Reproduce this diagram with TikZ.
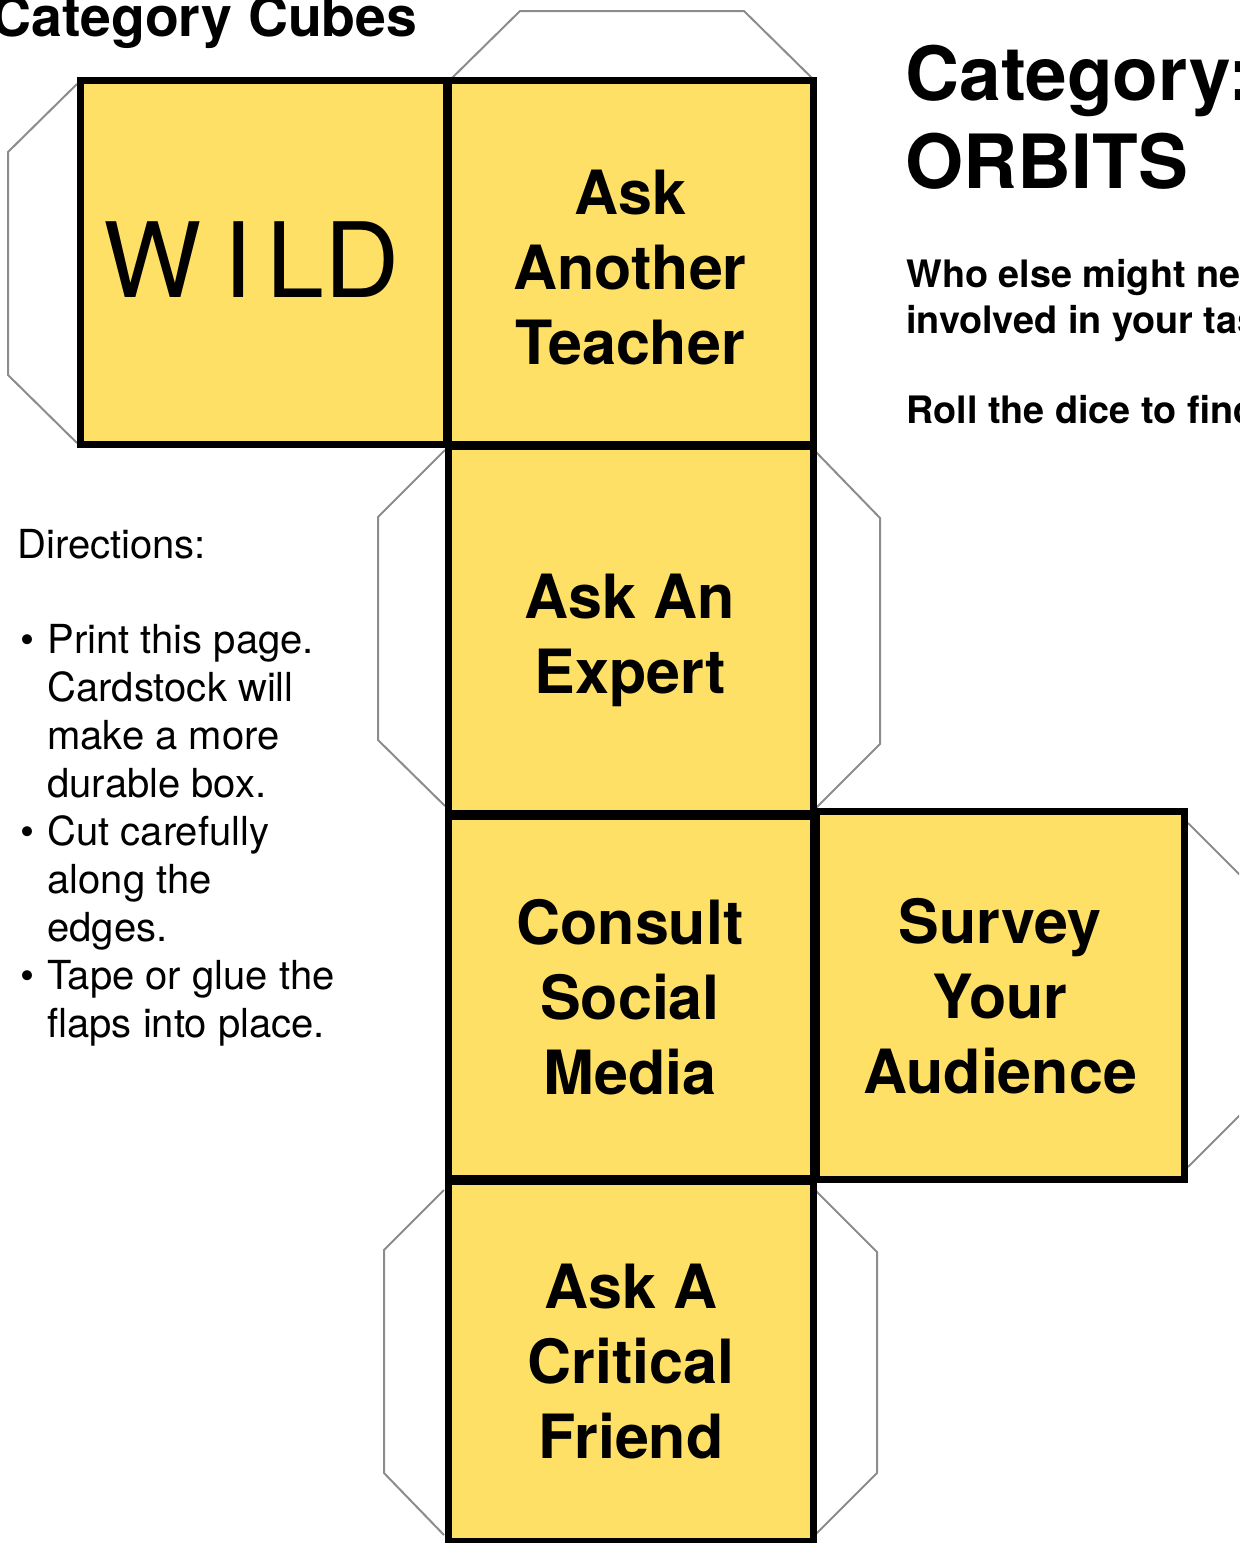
\documentclass[tikz,border=0pt]{standalone}
\usepackage{fontspec}
\setmainfont{TeX Gyre Heros}
\definecolor{cubeyellow}{HTML}{FFE066}
\definecolor{flapgray}{HTML}{8C8C8C}
\begin{document}
\begin{tikzpicture}[x=0.5pt,y=-0.5pt,
  flapline/.style={draw=flapgray,line width=1pt,line join=miter},
  face/.style={draw=black,fill=cubeyellow,line width=3.5pt,line join=miter},
  facelabel/.style={font=\bfseries\fontsize{30.5}{37.5}\selectfont,align=center,inner sep=0pt,anchor=center},
  titletxt/.style={font=\bfseries\fontsize{27.7}{33}\selectfont,inner sep=0pt,anchor=base west},
  bigtxt/.style={font=\bfseries\fontsize{37.4}{44}\selectfont,inner sep=0pt,anchor=base west},
  infotxt/.style={font=\bfseries\fontsize{18.9}{23}\selectfont,inner sep=0pt,anchor=base west},
  dirtxt/.style={font=\fontsize{20}{24}\selectfont,inner sep=0pt,anchor=base west},
  wildtxt/.style={font=\fontsize{52}{60}\selectfont,inner sep=0pt,anchor=base west}
]
\useasboundingbox (0,0) rectangle (1239,1543);
\clip (0,0) rectangle (1239,1543);
% flaps
\draw[flapline] (452,78) -- (520,11) -- (744,11) -- (812,78);
\draw[flapline] (77,84) -- (8,152) -- (8,375) -- (77,443);
\draw[flapline] (445,450) -- (378,517) -- (378,740) -- (445,806);
\draw[flapline] (816,452) -- (880,518) -- (880,744) -- (816,808);
\draw[flapline] (1188,823) -- (1258,893) -- (1258,1097) -- (1188,1167);
\draw[flapline] (444,1190) -- (384,1250) -- (384,1473) -- (444,1535);
\draw[flapline] (815,1190) -- (877,1252) -- (877,1473) -- (815,1535);
% faces
\path[face] (80.5,80) rectangle (446,444);
\path[face] (448.5,80) rectangle (813.5,444);
\path[face] (448.5,446) rectangle (813.5,813);
\path[face] (448.5,816) rectangle (813.5,1178);
\path[face] (816.5,811) rectangle (1184,1179);
\path[face] (448.5,1181) rectangle (813.5,1541);
% face labels
\node[wildtxt] (wild) at (103,297) {W\kern11pt I\kern7pt L\kern0pt D};
\node[facelabel] (teacher) at (630,268) {Ask\\Another\\Teacher};
\node[facelabel] (expert) at (630,634) {Ask An\\Ex\smash{p}ert};
\node[facelabel] (social) at (630,997) {Consult\\Social\\Media};
\node[facelabel] (survey) at (1000,996) {Survey\\Your\\Audience};
\node[facelabel] (friend) at (631,1362) {Ask A\\Critical\\Friend};
% titles
\node[titletxt] (title) at (-9,36) {Category Cubes};
\node[bigtxt] (cat) at (905,100) {Category:};
\node[bigtxt] (orbits) at (905,188) {ORBITS};
\node[infotxt] (q1) at (906,287) {Who else might need};
\node[infotxt] (q2) at (906,333) {involved in your task};
\node[infotxt] (q3) at (906,423) {Roll the dice to find};
% directions
\node[dirtxt] (dir) at (17,558) {Directions:};
\node[dirtxt] (b1) at (20,653) {•};
\node[dirtxt] (d1) at (47,653) {Print this page.};
\node[dirtxt] (d2) at (47,701) {Cardstock will};
\node[dirtxt] (d3) at (47,749) {make a more};
\node[dirtxt] (d4) at (47,797) {durable box.};
\node[dirtxt] (b2) at (20,845) {•};
\node[dirtxt] (d5) at (47,845) {Cut carefully};
\node[dirtxt] (d6) at (47,893) {along the};
\node[dirtxt] (d7) at (47,941) {edges.};
\node[dirtxt] (b3) at (20,989) {•};
\node[dirtxt] (d8) at (47,989) {Tape or glue the};
\node[dirtxt] (d9) at (47,1037) {flaps into place.};
\end{tikzpicture}
\end{document}
